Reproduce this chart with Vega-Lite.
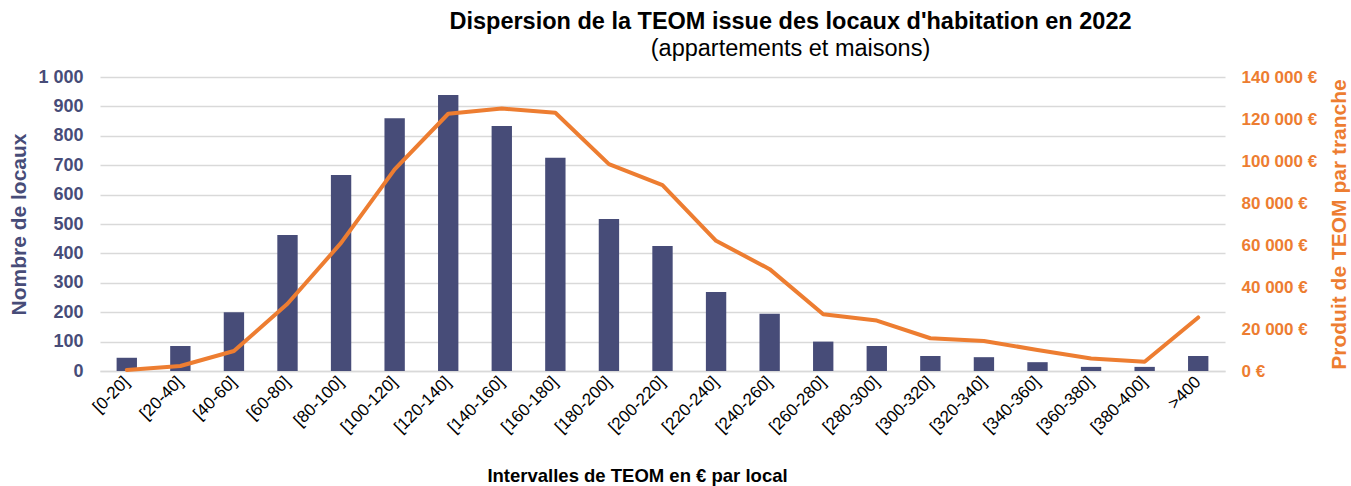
{
  "$schema": "https://vega.github.io/schema/vega-lite/v6.json",
  "width": 1125,
  "height": 294,
  "autosize": {"type": "none"},
  "padding": {"left": 100, "top": 77, "right": 126, "bottom": 115},
  "background": "white",
  "config": {"view": {"stroke": null}, "font": "Liberation Sans"},
  "title": {
    "text": "Dispersion de la TEOM issue des locaux d'habitation en 2022",
    "subtitle": "(appartements et maisons)",
    "fontSize": 23.5,
    "fontWeight": "bold",
    "color": "#000000",
    "subtitleFontSize": 23.5,
    "subtitleColor": "#000000",
    "subtitleFont": "Liberation Sans",
    "subtitlePadding": 3,
    "offset": 8,
    "dx": 128,
    "anchor": "middle"
  },
  "data": {
    "values": [
      {"t": "[0-20]", "n": 45, "p": 500},
      {"t": "[20-40]", "n": 85, "p": 2400},
      {"t": "[40-60]", "n": 200, "p": 9500},
      {"t": "[60-80]", "n": 463, "p": 32000},
      {"t": "[80-100]", "n": 667, "p": 61000},
      {"t": "[100-120]", "n": 860, "p": 96000},
      {"t": "[120-140]", "n": 939, "p": 122500},
      {"t": "[140-160]", "n": 833, "p": 125000},
      {"t": "[160-180]", "n": 725, "p": 123000},
      {"t": "[180-200]", "n": 517, "p": 98500},
      {"t": "[200-220]", "n": 425, "p": 88500},
      {"t": "[220-240]", "n": 269, "p": 62000},
      {"t": "[240-260]", "n": 195, "p": 48500},
      {"t": "[260-280]", "n": 100, "p": 27000},
      {"t": "[280-300]", "n": 85, "p": 24000},
      {"t": "[300-320]", "n": 51, "p": 15600},
      {"t": "[320-340]", "n": 47, "p": 14300},
      {"t": "[340-360]", "n": 30, "p": 10000},
      {"t": "[360-380]", "n": 14, "p": 6000},
      {"t": "[380-400]", "n": 14, "p": 4400},
      {"t": ">400", "n": 51, "p": 25500}
    ]
  },
  "encoding": {
    "x": {
      "field": "t",
      "type": "nominal",
      "sort": null,
      "scale": {"paddingInner": 0.62, "paddingOuter": 0.31},
      "axis": {
        "title": "Intervalles de TEOM en € par local",
        "titleFontSize": 18.5,
        "titleFontWeight": "bold",
        "titleColor": "#000000",
        "titlePadding": 31,
        "titleX": 537,
        "labelAngle": -45,
        "labelAlign": "right",
        "labelBaseline": "middle",
        "labelFontSize": 17,
        "labelColor": "#000000",
        "labelPadding": 8,
        "ticks": false,
        "domainColor": "#d9d9d9",
        "domainWidth": 1.5,
        "grid": false
      }
    }
  },
  "layer": [
    {
      "mark": {"type": "bar", "color": "#474C78"},
      "encoding": {
        "y": {
          "field": "n",
          "type": "quantitative",
          "scale": {"domain": [0, 1000]},
          "axis": {
            "title": "Nombre de locaux",
            "titleFontSize": 21,
            "titleFontWeight": "bold",
            "titleColor": "#474C78",
            "titlePadding": 8,
            "values": [0, 100, 200, 300, 400, 500, 600, 700, 800, 900, 1000],
            "labelExpr": "replace(format(datum.value, ','), ',', ' ')",
            "labelFontSize": 18,
            "labelFontWeight": "bold",
            "labelColor": "#474C78",
            "labelPadding": 17,
            "ticks": false,
            "domain": false,
            "grid": true,
            "gridColor": "#d9d9d9",
            "gridWidth": 1.5
          }
        }
      }
    },
    {
      "mark": {"type": "line", "color": "#ED7D31", "strokeWidth": 4, "strokeCap": "round", "strokeJoin": "round"},
      "encoding": {
        "y": {
          "field": "p",
          "type": "quantitative",
          "scale": {"domain": [0, 140000]},
          "axis": {
            "orient": "right",
            "title": "Produit de TEOM par tranche",
            "titleAngle": 270,
            "titleBaseline": "top",
            "titleFontSize": 21,
            "titleFontWeight": "bold",
            "titleColor": "#ED7D31",
            "titlePadding": 12,
            "values": [0, 20000, 40000, 60000, 80000, 100000, 120000, 140000],
            "labelExpr": "replace(format(datum.value, ','), ',', ' ') + ' €'",
            "labelFontSize": 17,
            "labelFontWeight": "bold",
            "labelColor": "#ED7D31",
            "labelPadding": 16,
            "ticks": false,
            "domain": false,
            "grid": false
          }
        }
      }
    }
  ],
  "resolve": {"scale": {"y": "independent"}}
}
